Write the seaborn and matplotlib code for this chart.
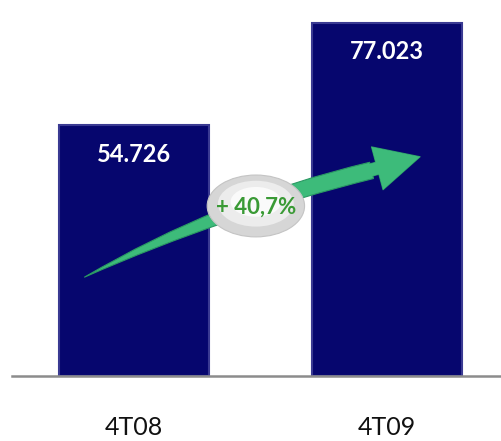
import matplotlib.pyplot as plt
import seaborn as sns
import pandas as pd
from matplotlib.patches import FancyArrowPatch, Ellipse

# Datos del gráfico
periodos = ["4T08", "4T09"]
valores = [54726, 77023]
etiquetas = ["54.726", "77.023"]
variacion = "+ 40,7%"

sns.set_theme(style="white")
plt.rcParams['font.family'] = ['Lato', 'DejaVu Sans']

df = pd.DataFrame({"periodo": periodos, "valor": valores})

fig = plt.figure(figsize=(5.01, 4.41), dpi=100)
ax = fig.add_axes([12 / 501, 65 / 441, 489 / 501, 376 / 441])

sns.barplot(data=df, x="periodo", y="valor", color="#06066e", width=0.593,
            edgecolor="#3a3a92", linewidth=1.5, saturation=1, ax=ax)

ax.set_xlim(-0.482, 1.451)
ax.set_ylim(0, 82040)

# valores dentro de las barras
for i, (v, t) in enumerate(zip(valores, etiquetas)):
    ax.text(i, v - 6300, t, ha="center", va="center", color="white",
            fontsize=17, fontweight="bold")

# flecha de crecimiento: cuerpo en cuña + punta
verde, borde = "#3dbb7a", "#2a9863"
cuerpo = FancyArrowPatch((0.95, 45000), (-0.205, 21300),
                         connectionstyle="arc3,rad=0.06",
                         arrowstyle="wedge,tail_width=12,shrink_factor=0.8",
                         facecolor=verde, edgecolor=borde, linewidth=0.8,
                         zorder=5)
ax.add_patch(cuerpo)
punta = FancyArrowPatch((0.88, 44100), (1.142, 48000),
                        arrowstyle="simple,head_width=32,head_length=32,tail_width=9",
                        facecolor=verde, edgecolor="none", linewidth=0,
                        zorder=5.5)
ax.add_patch(punta)
punta_borde = FancyArrowPatch((0.88, 44100), (1.142, 48000),
                              arrowstyle="simple,head_width=32,head_length=32,tail_width=9",
                              facecolor="none", edgecolor=borde, linewidth=0.8,
                              zorder=4.9)
ax.add_patch(punta_borde)

# óvalo con la variación
ax.add_patch(Ellipse((0.482, 37100), 0.385, 13500, facecolor="#d6d6d6",
                     edgecolor="#c4c4c4", linewidth=0.8, zorder=6))
ax.add_patch(Ellipse((0.482, 37600), 0.30, 10000, facecolor="#ececec",
                     edgecolor="none", zorder=6))
ax.add_patch(Ellipse((0.482, 38000), 0.20, 6500, facecolor="#fafafa",
                     edgecolor="none", zorder=6))
ax.text(0.482, 36900, variacion, ha="center", va="center", color="#3a9a35",
        fontsize=16, fontweight="bold", zorder=7)

ax.set_xlabel("")
ax.set_ylabel("")
ax.set_yticks([])
ax.tick_params(axis="x", length=0, pad=29, labelsize=18, labelcolor="#111111")
for s in ["top", "right", "left"]:
    ax.spines[s].set_visible(False)
ax.spines["bottom"].set_color("#8c8c8c")
ax.spines["bottom"].set_linewidth(1.8)

fig.savefig("out.png", dpi=100)
